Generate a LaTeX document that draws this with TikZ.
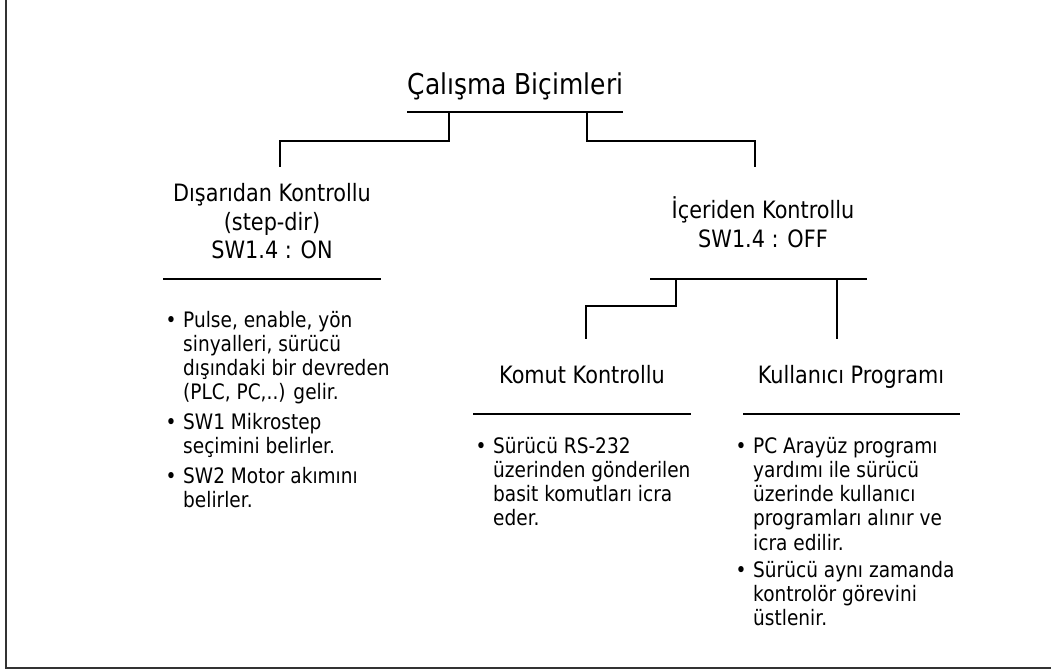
\documentclass[tikz,border=0pt]{standalone}
\usepackage{fontspec}
\setmainfont{DejaVu Sans}[FakeStretch=0.87]
\newcommand{\hd}[1]{\parbox[t]{300pt}{\centering\fontsize{23.9pt}{28.5pt}\selectfont #1}}
\newcommand{\itm}[1]{\parbox[t]{260pt}{\raggedright\fontsize{21.3pt}{24.3pt}\selectfont\leavevmode\llap{\makebox[24pt][c]{•}}#1}}
\begin{document}
\begin{tikzpicture}[x=1pt,y=-1pt,
  lbl/.style={inner sep=0pt, anchor=base},
  li/.style={inner sep=0pt, anchor=base west},
  bar/.style={line width=2.3pt, black},
  link/.style={line width=2.3pt, black},
  frame/.style={line width=2pt, black!80}]
\useasboundingbox (0,0) rectangle (1051,669);
\draw[frame] (6,-2) -- (6,667.5) -- (1053,667.5);

% headings
\node[lbl, font=\fontsize{28.7pt}{32pt}\selectfont] (title) at (515.5,94.5) {Çalışma Biçimleri};
\node[lbl] (ext) at (272,201.7) {\hd{Dışarıdan Kontrollu\\(step-dir)\\SW1.4 : ON}};
\node[lbl] (int) at (763,218.5) {\hd{İçeriden Kontrollu\\SW1.4 : OFF}};
\node[lbl] (cmd) at (582,383) {\hd{Komut Kontrollu}};
\node[lbl] (usr) at (851,383) {\hd{Kullanıcı Programı}};

% bars
\coordinate (tbL) at (407,112);  \coordinate (tbR) at (623,112);
\coordinate (ebL) at (163,279);  \coordinate (ebR) at (381,279);
\coordinate (ibL) at (650,279);  \coordinate (ibR) at (867,279);
\coordinate (cbL) at (473,414);  \coordinate (cbR) at (691,414);
\coordinate (ubL) at (743,414);  \coordinate (ubR) at (960,414);
\draw[bar] (tbL) -- (tbR);
\draw[bar] (ebL) -- (ebR);
\draw[bar] (ibL) -- (ibR);
\draw[bar] (cbL) -- (cbR);
\draw[bar] (ubL) -- (ubR);

% connectors
\coordinate (tA) at (449,112);   \coordinate (extTop) at (280,167);
\coordinate (tB) at (587,112);   \coordinate (intTop) at (755,167);
\coordinate (iA) at (676,279);   \coordinate (cmdTop) at (586,339);
\coordinate (iB) at (837,279);   \coordinate (usrTop) at (837,339);
\draw[link] (tA) -- ++(0,29) -| (extTop);
\draw[link] (tB) -- ++(0,29) -| (intTop);
\draw[link] (iA) -- ++(0,27) -| (cmdTop);
\draw[link] (iB) -- (usrTop);

% bullet lists
\node[li] (e1) at (183,327) {\itm{Pulse, enable, yön\\sinyalleri, sürücü\\dışındaki bir devreden\\(PLC, PC,..) gelir.}};
\node[li] (e2) at (183,429) {\itm{SW1 Mikrostep\\seçimini belirler.}};
\node[li] (e3) at (183,483) {\itm{SW2 Motor akımını\\belirler.}};
\node[li] (c1) at (493,453) {\itm{Sürücü RS-232\\üzerinden gönderilen\\basit komutları icra\\eder.}};
\node[li] (u1) at (753,453) {\itm{PC Arayüz programı\\yardımı ile sürücü\\üzerinde kullanıcı\\programları alınır ve\\icra edilir.}};
\node[li] (u2) at (753,577) {\itm{Sürücü aynı zamanda\\kontrolör görevini\\üstlenir.}};
\end{tikzpicture}
\end{document}
